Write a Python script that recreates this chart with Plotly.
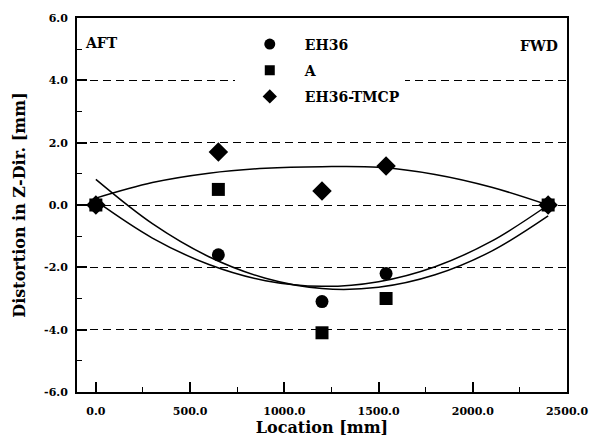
import plotly.graph_objects as go

# ---- data ----
location = [0, 650, 1200, 1540, 2400]
eh36 = [0.0, -1.6, -3.1, -2.2, 0.0]
grade_a = [0.0, 0.5, -4.1, -3.0, 0.0]
eh36_tmcp = [0.0, 1.7, 0.45, 1.25, 0.0]

# fitted curves
curve_x = [0, 300, 600, 900, 1200, 1500, 1800, 2100, 2400]
fit_eh36 = [0.13, -1.06, -1.91, -2.43, -2.61, -2.46, -1.98, -1.16, 0.0]
fit_a = [0.82, -0.60, -1.66, -2.35, -2.68, -2.64, -2.24, -1.48, -0.35]
fit_tmcp = [0.22, 0.72, 1.02, 1.18, 1.23, 1.21, 0.98, 0.57, 0.0]

x_ticks = [0, 500, 1000, 1500, 2000, 2500]
x_tick_text = ["0.0", "500.0", "1000.0", "1500.0", "2000.0", "2500.0"]
y_ticks = [-6, -4, -2, 0, 2, 4, 6]
y_tick_text = ["-6.0", "-4.0", "-2.0", "0.0", "2.0", "4.0", "6.0"]

series_names = ["EH36", "A", "EH36-TMCP"]
series_symbols = ["circle", "square", "diamond"]

FONT = "DejaVu Serif"

fig = go.Figure()

for cy in (fit_eh36, fit_a, fit_tmcp):
    fig.add_trace(go.Scatter(x=curve_x, y=cy, mode="lines", line=dict(color="black", width=1.5, shape="spline", smoothing=1.0),
                             showlegend=False, hoverinfo="skip"))

main_sizes = [13, 13, 15]
for name, ys, sym, sz in zip(series_names, [eh36, grade_a, eh36_tmcp], series_symbols, main_sizes):
    fig.add_trace(go.Scatter(x=location, y=ys, mode="markers", name=name,
                             marker=dict(symbol=sym, size=sz, color="black"), showlegend=False))

legend_sizes = [11, 10, 11]
for i, (name, sym, sz) in enumerate(zip(series_names, series_symbols, legend_sizes)):
    fig.add_trace(go.Scatter(x=[None], y=[None], mode="markers", name=name, legendgroup=f"g{i}",
                             marker=dict(symbol=sym, size=sz, color="black")))

axis_common = dict(showline=True, linecolor="black", linewidth=2, mirror=True,
                   ticks="inside", ticklen=10, tickwidth=1.5, tickcolor="black",
                   zeroline=False, automargin=False)

fig.update_xaxes(range=[-100, 2500], tickvals=x_ticks, ticktext=x_tick_text, showgrid=False,
                 tickfont=dict(family=FONT, size=11, color="black", weight="bold"),
                 ticklabelstandoff=8,
                 minor=dict(ticks="inside", ticklen=5, tickwidth=1, tickcolor="black", dtick=250, tick0=0, showgrid=False),
                 title=dict(text="Location [mm]", font=dict(family=FONT, size=16, color="black", weight="bold"), standoff=4),
                 **axis_common)
fig.update_yaxes(range=[-6, 6], tickvals=y_ticks, ticktext=y_tick_text, showgrid=True,
                 gridcolor="black", gridwidth=1, griddash="8px,5px",
                 tickfont=dict(family=FONT, size=11, color="black", weight="bold"),
                 ticklabelstandoff=5,
                 minor=dict(ticks="inside", ticklen=5, tickwidth=1, tickcolor="black", dtick=1, tick0=0, showgrid=False),
                 title=dict(text="Distortion in Z-Dir. [mm]", font=dict(family=FONT, size=16, color="black", weight="bold"), standoff=14),
                 **axis_common)

fig.add_annotation(x=0.012, y=0.933, xref="paper", yref="paper", text="AFT", showarrow=False,
                   xanchor="left", yanchor="middle", font=dict(family=FONT, size=14, color="black", weight="bold"))
fig.add_annotation(x=0.985, y=0.925, xref="paper", yref="paper", text="FWD", showarrow=False,
                   xanchor="right", yanchor="middle", font=dict(family=FONT, size=14, color="black", weight="bold"))

fig.update_layout(
    width=593, height=441,
    margin=dict(l=77, r=26, t=18, b=49),
    paper_bgcolor="white", plot_bgcolor="white",
    showlegend=True,
    legend=dict(x=0.322, y=0.972, xanchor="left", yanchor="top", bgcolor="white",
                font=dict(family=FONT, size=14, color="black", weight="bold"),
                tracegroupgap=5, itemwidth=60),
)

fig.write_html("out.html", config={"displayModeBar": False},
               post_script="document.body.style.margin='0px';")
